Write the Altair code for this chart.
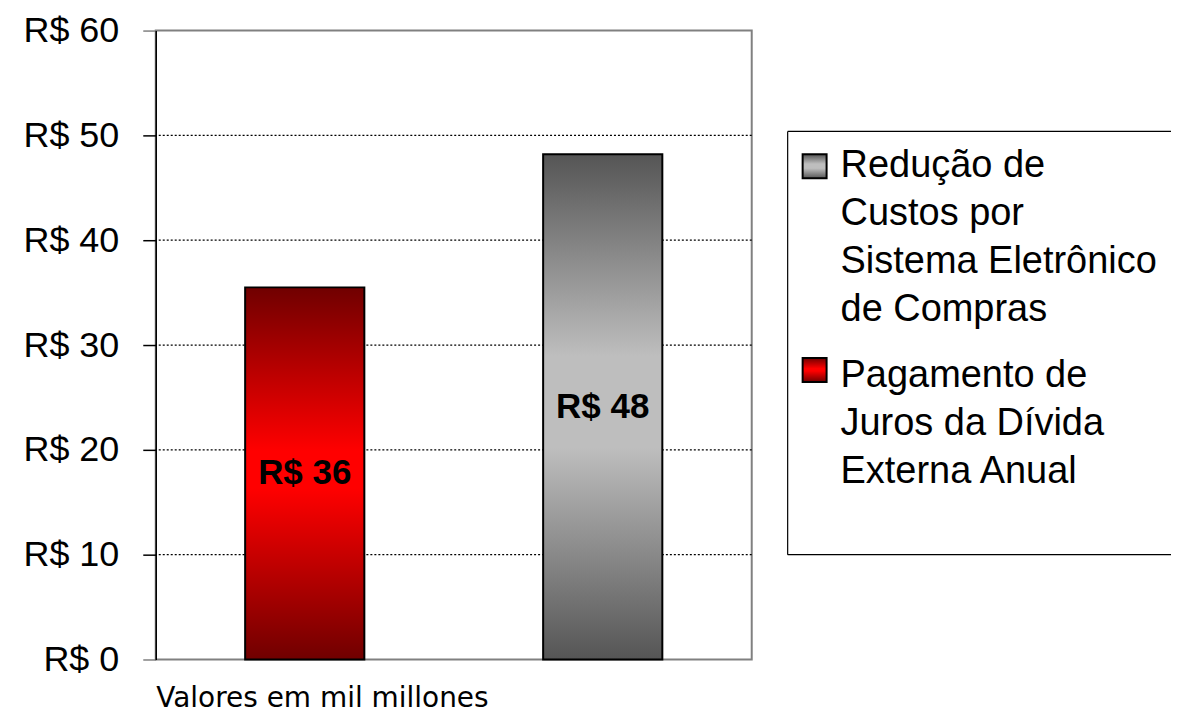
import altair as alt
import pandas as pd

# ---- data ----
categories = [
    "Pagamento de Juros da Dívida Externa Anual",
    "Redução de Custos por Sistema Eletrônico de Compras",
]
values = [35.5, 48.2]
bar_labels = ["R$ 36", "R$ 48"]
y_ticks = [0, 10, 20, 30, 40, 50, 60]
grid_values = [10, 20, 30, 40, 50]
x_title = "Valores em mil millones"
legend_lines = [
    ["Redução de", "Custos por", "Sistema Eletrônico", "de Compras"],
    ["Pagamento de", "Juros da Dívida", "Externa Anual"],
]

df = pd.DataFrame({"cat": categories, "value": values, "label": bar_labels})
grid_df = pd.DataFrame({"value": grid_values})


def vgrad(c_end, c_mid, lo, hi):
    return alt.Gradient(
        gradient="linear",
        x1=0, x2=0, y1=0, y2=1,
        stops=[
            alt.GradientStop(offset=0, color=c_end),
            alt.GradientStop(offset=lo, color=c_mid),
            alt.GradientStop(offset=hi, color=c_mid),
            alt.GradientStop(offset=1, color=c_end),
        ],
    )


red_grad = vgrad("#700000", "#ff0000", 0.44, 0.54)
gray_grad = vgrad("#555555", "#bebebe", 0.40, 0.58)
grads = [red_grad, gray_grad]

W, H = 597, 630

y_scale = alt.Scale(domain=[0, 60], nice=False, zero=True)
y_axis = alt.Axis(
    values=y_ticks,
    labelExpr="'R$ ' + datum.value",
    title=None,
    grid=False,
    labelFont="Liberation Sans",
    labelFontSize=36,
    labelColor="black",
    labelPadding=24,
    tickSize=13,
    tickWidth=1.5,
    tickColor=alt.condition(
        "datum.value == 0 || datum.value == 60", alt.value("#808080"), alt.value("black")
    ),
    domainColor="black",
    domainWidth=1.5,
)

x_enc = alt.X(
    "cat:N",
    sort=categories,
    scale=alt.Scale(paddingInner=0.6, paddingOuter=0.3),
    axis=alt.Axis(
        labels=False,
        ticks=False,
        domain=False,
        title=x_title,
        titleAnchor="start",
        titleFont="DejaVu Sans",
        titleFontSize=28,
        titleFontWeight="normal",
        titleColor="black",
        titlePadding=25,
    ),
)

grid = (
    alt.Chart(grid_df)
    .mark_rule(color="black", strokeWidth=1.2, strokeDash=[2, 2])
    .encode(y=alt.Y("value:Q", scale=y_scale, axis=y_axis))
)

bars = []
for i, c in enumerate(categories):
    bars.append(
        alt.Chart(df)
        .transform_filter(alt.datum.cat == c)
        .mark_bar(color=grads[i], stroke="black", strokeWidth=2)
        .encode(x=x_enc, y=alt.Y("value:Q", scale=y_scale, axis=y_axis))
    )

texts = (
    alt.Chart(df)
    .transform_calculate(mid="datum.value / 2")
    .mark_text(
        font="Liberation Sans",
        fontSize=35,
        fontWeight="bold",
        color="black",
        baseline="middle",
    )
    .encode(
        x=x_enc,
        y=alt.Y("mid:Q", scale=y_scale, axis=y_axis),
        text="label:N",
    )
)

main = alt.layer(grid, *bars, texts).properties(width=W, height=H)

# ---- legend panel ----
LW = 384
one = pd.DataFrame({"k": [0]})
frame_top = alt.Chart(one).mark_rule(color="black", strokeWidth=1.2).encode(
    x=alt.value(0), x2=alt.value(LW), y=alt.value(101)
)
frame_bottom = alt.Chart(one).mark_rule(color="black", strokeWidth=1.2).encode(
    x=alt.value(0), x2=alt.value(LW), y=alt.value(525)
)
frame_left = alt.Chart(one).mark_rule(color="black", strokeWidth=1.2).encode(
    x=alt.value(0), y=alt.value(101), y2=alt.value(525)
)

legend_order = [1, 0]  # gray entry first, then red
sq_y = [124, 328]
txt_y = [147, 357]
leg_layers = [frame_top, frame_bottom, frame_left]
for k, idx in enumerate(legend_order):
    leg_layers.append(
        alt.Chart(one)
        .mark_rect(color=grads[idx], stroke="black", strokeWidth=2)
        .encode(
            x=alt.value(15), x2=alt.value(39),
            y=alt.value(sq_y[k]), y2=alt.value(sq_y[k] + 24),
        )
    )
    leg_layers.append(
        alt.Chart(one)
        .mark_text(
            font="Liberation Sans",
            fontSize=38,
            color="black",
            align="left",
            baseline="alphabetic",
            lineHeight=48,
        )
        .encode(
            x=alt.value(53),
            y=alt.value(txt_y[k]),
            text=alt.value(legend_lines[k]),
        )
    )

legend = alt.layer(*leg_layers).properties(
    width=LW, height=H, view=alt.ViewBackground(stroke="transparent")
)

chart = (
    alt.hconcat(main, legend, spacing=32)
    .configure_view(stroke="#808080", strokeWidth=2)
    .properties(background="white", padding={"top": 3, "left": 13, "right": 0, "bottom": 0})
)

chart.save("out.html", embed_options={"renderer": "svg", "actions": False})
